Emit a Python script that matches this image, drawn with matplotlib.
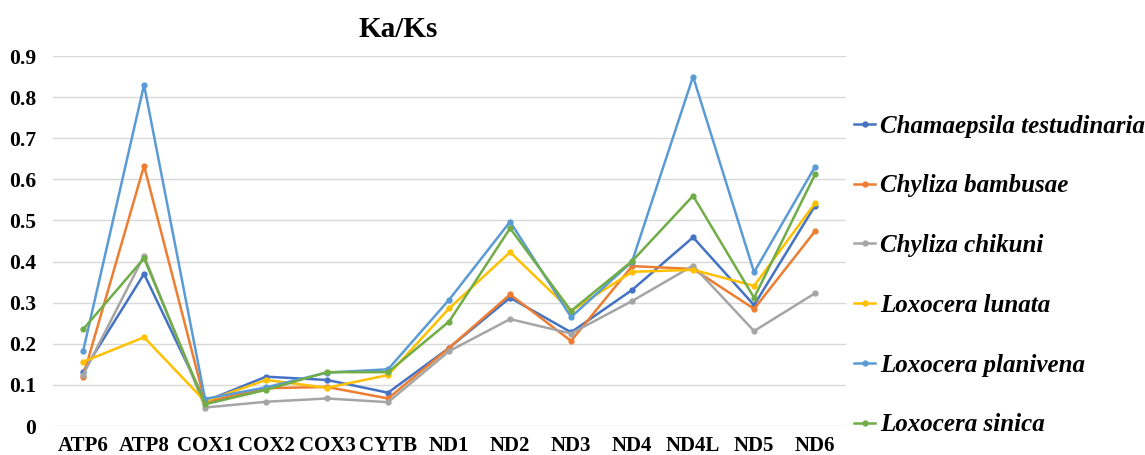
import matplotlib.pyplot as plt

genes = ['ATP6', 'ATP8', 'COX1', 'COX2', 'COX3', 'CYTB', 'ND1',
         'ND2', 'ND3', 'ND4', 'ND4L', 'ND5', 'ND6']

chamaepsila_testudinaria = [0.132, 0.370, 0.060, 0.120, 0.112, 0.081, 0.190,
                            0.312, 0.228, 0.331, 0.459, 0.294, 0.536]
chyliza_bambusae = [0.120, 0.633, 0.058, 0.092, 0.095, 0.067, 0.190,
                    0.320, 0.207, 0.389, 0.382, 0.285, 0.474]
chyliza_chikuni = [0.124, 0.414, 0.045, 0.059, 0.067, 0.058, 0.182,
                   0.260, 0.225, 0.304, 0.390, 0.231, 0.323]
loxocera_lunata = [0.156, 0.216, 0.060, 0.112, 0.093, 0.124, 0.286,
                   0.423, 0.280, 0.375, 0.380, 0.341, 0.542]
loxocera_planivena = [0.182, 0.830, 0.066, 0.094, 0.130, 0.138, 0.307,
                      0.497, 0.265, 0.400, 0.850, 0.374, 0.631]
loxocera_sinica = [0.235, 0.408, 0.053, 0.088, 0.131, 0.131, 0.254,
                   0.481, 0.280, 0.401, 0.560, 0.312, 0.612]

species = ['Chamaepsila testudinaria', 'Chyliza bambusae', 'Chyliza chikuni',
           'Loxocera lunata', 'Loxocera planivena', 'Loxocera sinica']
series = [chamaepsila_testudinaria, chyliza_bambusae, chyliza_chikuni,
          loxocera_lunata, loxocera_planivena, loxocera_sinica]
colors = ['#4472C4', '#ED7D31', '#A5A5A5', '#FFC000', '#5B9BD5', '#70AD47']

plt.rcParams['font.family'] = ['Liberation Serif', 'DejaVu Serif']

fig = plt.figure(figsize=(11.45, 4.55), dpi=100)
ax = fig.add_axes([0.0459, 0.0637, 0.6926, 0.8132])

x = list(range(len(genes)))
for vals, name, c in zip(series, species, colors):
    ax.plot(x, vals, color=c, lw=1.8, marker='o', markersize=3.5, label=name)

ax.set_xlim(-0.5, len(genes) - 0.5)
ax.set_ylim(0, 0.9)
ax.set_yticks([i / 10 for i in range(10)])
ax.set_yticklabels(['0'] + ['0.%d' % i for i in range(1, 10)],
                   fontsize=15.5, fontweight='bold')
ax.set_xticks(x)
ax.set_xticklabels(genes, fontsize=15, fontweight='bold')
ax.tick_params(length=0)
ax.tick_params(axis='y', pad=12)
ax.tick_params(axis='x', pad=7)
ax.grid(axis='y', color='#D9D9D9', lw=1)
ax.set_axisbelow(True)
for s in ax.spines.values():
    s.set_visible(False)

fig.text(0.348, 0.935, 'Ka/Ks', fontsize=21, fontweight='bold',
         ha='center', va='center')

fig.legend(loc='center left', bbox_to_anchor=(0.746, 0.3945), frameon=False,
           prop={'size': 18, 'weight': 'bold', 'style': 'italic'},
           handlelength=0.85, handletextpad=0.2, labelspacing=1.47,
           borderpad=0, borderaxespad=0)

fig.savefig('out.png', dpi=100)
